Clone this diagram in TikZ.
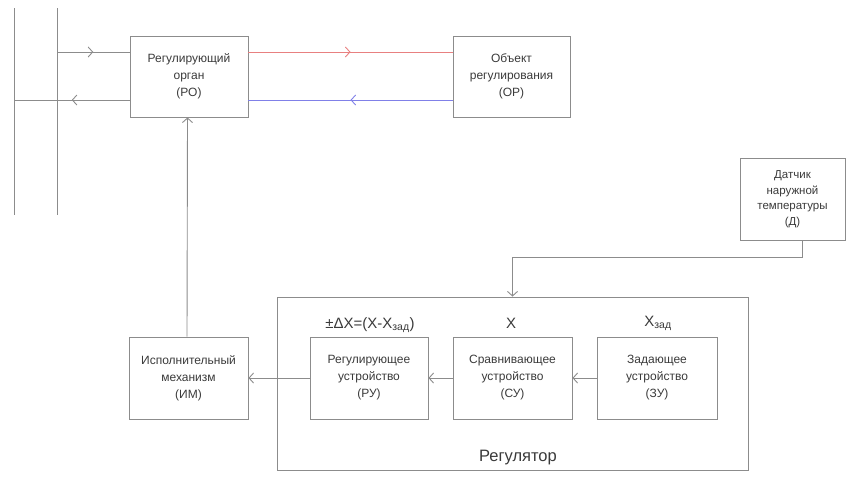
\documentclass[tikz,border=0pt]{standalone}
\usepackage{fontspec}
\setmainfont{Liberation Sans}
\usetikzlibrary{arrows.meta,decorations.markings}
\definecolor{ln}{HTML}{8C8C8C}
\definecolor{txt}{HTML}{3A3A3A}
\definecolor{redl}{HTML}{E88080}
\definecolor{bluel}{HTML}{8080E8}
\tikzset{
  blk/.style={draw=ln, line width=0.9pt, rectangle, align=center, text=txt,
    font=\fontsize{12}{17}\selectfont, inner sep=0pt},
  con/.style={draw=ln, line width=0.9pt},
  barb/.style={-{Straight Barb[length=4.5pt,width=10pt]}},
  midarr/.style={postaction={decorate}, decoration={markings,
    mark=at position 0.5 with {\arrow{Straight Barb[length=4.5pt,width=10pt]}}}},
  lbl/.style={text=txt, font=\fontsize{15}{17}\selectfont, inner sep=0pt}
}
\begin{document}
\begin{tikzpicture}[x=1pt,y=-1pt]
\useasboundingbox (0,0) rectangle (850,477);
% nodes
\node[blk, minimum width=118pt, minimum height=81pt] (RO) at (189,76.5) {Регулирующий\\орган\\(РО)};
\node[blk, minimum width=117pt, minimum height=81pt] (OP) at (511.5,76.5) {Объект\\регулирования\\(ОР)};
\node[blk, minimum width=105pt, minimum height=82pt, font=\fontsize{11.5}{15.5}\selectfont] (D) at (792.5,199) {Датчик\\наружной\\температуры\\(Д)};
\node[draw=ln, line width=0.9pt, minimum width=471pt, minimum height=173pt, inner sep=0pt] (REG) at (512.5,383.5) {};
\node[blk, minimum width=119pt, minimum height=82pt] (IM) at (188.5,378) {Исполнительный\\механизм\\(ИМ)};
\node[blk, minimum width=118pt, minimum height=82pt] (RU) at (369,378) {Регулирующее\\устройство\\(РУ)};
\node[blk, minimum width=119pt, minimum height=82pt] (SU) at (512.5,378) {Сравнивающее\\устройство\\(СУ)};
\node[blk, minimum width=120pt, minimum height=82pt] (ZU) at (657,378) {Задающее\\устройство\\(ЗУ)};
% labels
\node[lbl] (lRU) at (370,325) {±ΔX=(X-X\textsubscript{зад})};
\node[lbl] (lSU) at (511,323) {X};
\node[lbl] (lZU) at (658,323) {X\textsubscript{зад}};
\node[lbl, font=\fontsize{16.5}{18}\selectfont] (lREG) at (518,458) {Регулятор};
% bus lines
\coordinate (b1t) at (14,8);
\coordinate (b1b) at (14,215);
\coordinate (b2t) at (57,8);
\coordinate (b2b) at (57,215);
\draw[con] (b1t) -- (b1b);
\draw[con] (b2t) -- (b2b);
\coordinate (b2m) at (57,52);
\coordinate (b1m) at (14,100);
\draw[con, midarr] (b2m) -- ([yshift=24.5pt]RO.west);
\draw[con, midarr] ([yshift=-23.5pt]RO.west) -- (b1m);
% red / blue
\draw[con, draw=redl, midarr] ([yshift=24.5pt]RO.east) -- ([yshift=24.5pt]OP.west);
\draw[con, draw=bluel, midarr] ([yshift=-23.5pt]OP.west) -- ([yshift=-23.5pt]RO.east);
% sensor
\coordinate (dc) at (802,257);
\draw[con, barb] ([xshift=9.5pt]D.south) -- (dc) -- (dc -| REG.north) -- (REG.north);
% IM to RO
\draw[con, barb] ([xshift=-1.5pt]IM.north) -- ([xshift=-1.5pt]RO.south);
% chain
\draw[con, barb] (ZU.west) -- (SU.east);
\draw[con, barb] (SU.west) -- (RU.east);
\draw[con, barb] (RU.west) -- (IM.east);
\end{tikzpicture}
\end{document}
